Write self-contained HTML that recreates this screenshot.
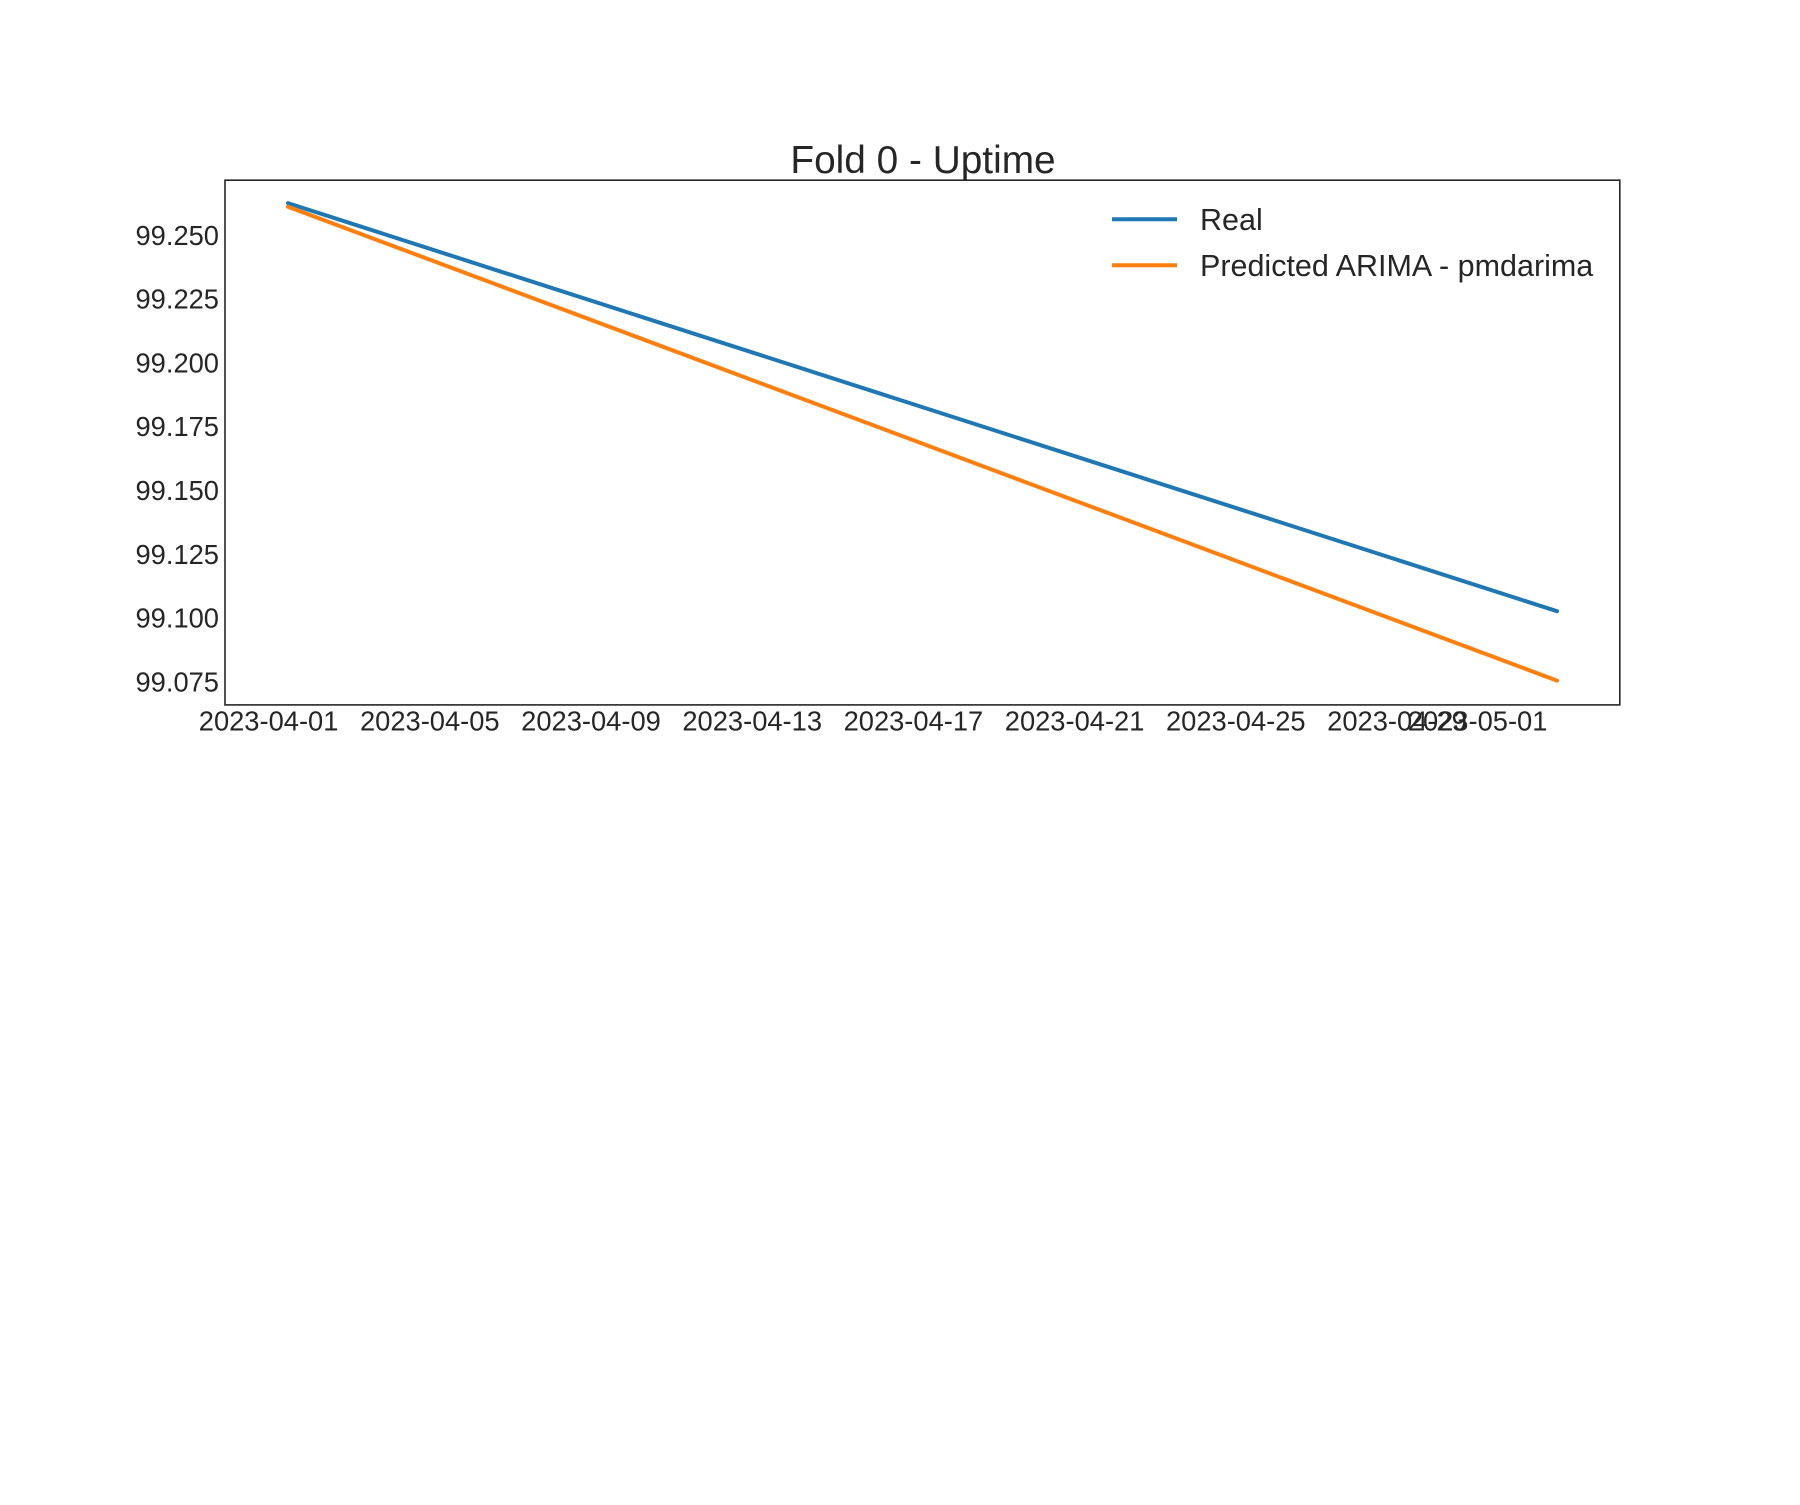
<!DOCTYPE html>
<html><head><meta charset="utf-8"><style>
body{margin:0;background:#fff}
svg text{font-family:"Liberation Sans",sans-serif;fill:#262626}
</style></head><body>
<svg id="c" width="1800" height="1500" xmlns="http://www.w3.org/2000/svg">
<rect width="1800" height="1500" fill="#fff"/>
<text x="923" y="173" font-size="38.8" text-anchor="middle">Fold 0 - Uptime</text>
<g id="plot"></g>
<rect x="225" y="180.2" width="1394.8" height="524.7" fill="none" stroke="#262626" stroke-width="1.6"/>
<g>
<line x1="1112" y1="219.3" x2="1177" y2="219.3" stroke="#1f77b4" stroke-width="4"/>
<text x="1200" y="230" font-size="30.5">Real</text>
<line x1="1112" y1="265.2" x2="1177" y2="265.2" stroke="#ff7f0e" stroke-width="4"/>
<text x="1200" y="276" font-size="30.5">Predicted ARIMA - pmdarima</text>
</g>
</svg>
<script>
const yTicks=[99.075,99.100,99.125,99.150,99.175,99.200,99.225,99.250];
const xTickLabels=["2023-04-01","2023-04-05","2023-04-09","2023-04-13","2023-04-17","2023-04-21","2023-04-25","2023-04-29","2023-05-01"];
const xTickDays=[0,4,8,12,16,20,24,28,30];
const seriesDays=[0.48,31.97];
const realValues=[99.2626,99.1027];
const predValues=[99.2612,99.0755];
const NS="http://www.w3.org/2000/svg";
function xs(d){return 268.6+d*40.3;}
function ys(v){return 235.3+(99.25-v)/0.025*63.8;}
const svg=document.getElementById('c');
const plot=document.getElementById('plot');
yTicks.forEach(v=>{
 const t=document.createElementNS(NS,'text');
 t.setAttribute('x',219);t.setAttribute('y',ys(v)+9.5);
 t.setAttribute('font-size','27.3');t.setAttribute('text-anchor','end');
 t.textContent=v.toFixed(3);
 
 
 svg.appendChild(t);
});
xTickLabels.forEach((l,i)=>{
 const t=document.createElementNS(NS,'text');
 t.setAttribute('x',xs(xTickDays[i]));t.setAttribute('y',730.5);
 t.setAttribute('font-size','27.3');t.setAttribute('text-anchor','middle');
 t.textContent=l;
 
 
 svg.appendChild(t);
});
function line(vals,color,name){
 const p=document.createElementNS(NS,'polyline');
 p.setAttribute('points',vals.map((v,i)=>xs(seriesDays[i])+','+ys(v)).join(' '));
 p.setAttribute('fill','none');p.setAttribute('stroke',color);p.setAttribute('stroke-width','4');
 p.setAttribute('stroke-linecap','round');
 
 
 plot.appendChild(p);
}
line(realValues,'#1f77b4','real-line');
line(predValues,'#ff7f0e','predicted-line');
</script>
</body></html>
